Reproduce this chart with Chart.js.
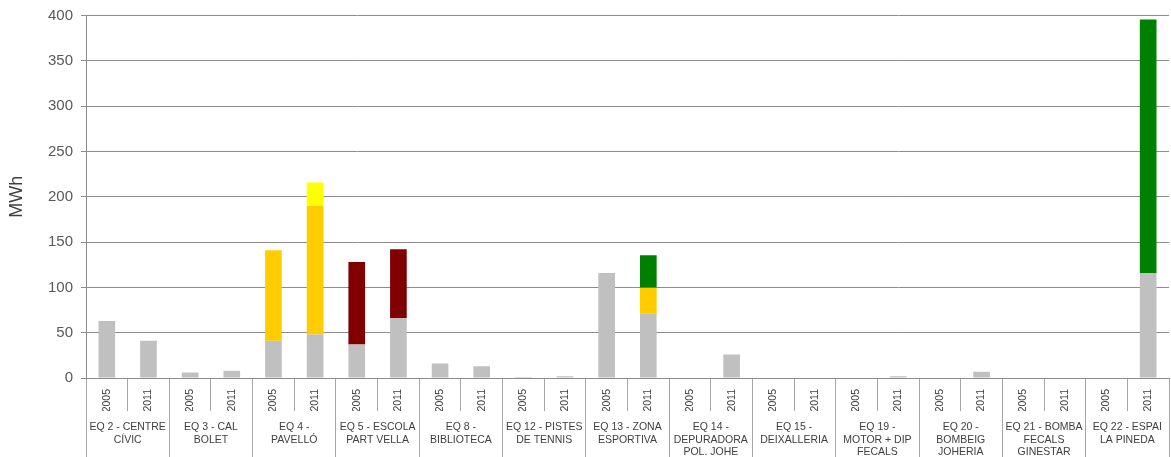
<!DOCTYPE html>
<html>
<head>
<meta charset="utf-8">
<script src="https://cdn.jsdelivr.net/npm/chart.js@4"></script>
<style>
  body { margin: 0; background: #fff; }
  #wrap { width: 1171px; height: 457px; position: relative; }
</style>
</head>
<body>
<div id="wrap"><canvas id="energy-canvas"></canvas></div>
<script>
// one year per bar, two bars per building
const years = [
  "2005", "2011", "2005", "2011", "2005", "2011", "2005", "2011", "2005", "2011",
  "2005", "2011", "2005", "2011", "2005", "2011", "2005", "2011", "2005", "2011",
  "2005", "2011", "2005", "2011", "2005", "2011",
];

const buildings = [
  ["EQ 2 - CENTRE", "CÍVIC"],
  ["EQ 3 - CAL", "BOLET"],
  ["EQ 4 -", "PAVELLÓ"],
  ["EQ 5 - ESCOLA", "PART VELLA"],
  ["EQ 8 -", "BIBLIOTECA"],
  ["EQ 12 - PISTES", "DE TENNIS"],
  ["EQ 13 - ZONA", "ESPORTIVA"],
  ["EQ 14 -", "DEPURADORA", "POL. JOHE"],
  ["EQ 15 -", "DEIXALLERIA"],
  ["EQ 19 -", "MOTOR + DIP", "FECALS"],
  ["EQ 20 -", "BOMBEIG", "JOHERIA"],
  ["EQ 21 - BOMBA", "FECALS", "GINESTAR"],
  ["EQ 22 - ESPAI", "LA PINEDA"],
];

// MWh
const greySeries = [63, 41, 6, 8, 41, 48, 37, 66, 16, 13, 1, 2, 116, 71, 0, 26, 0, 0, 0, 2, 0, 7, 0, 0, 0, 116];
const orangeSeries = [0, 0, 0, 0, 100, 142, 0, 0, 0, 0, 0, 0, 0, 28.5, 0, 0, 0, 0, 0, 0, 0, 0, 0, 0, 0, 0];
const yellowSeries = [0, 0, 0, 0, 0, 25.6, 0, 0, 0, 0, 0, 0, 0, 0, 0, 0, 0, 0, 0, 0, 0, 0, 0, 0, 0, 0];
const darkRedSeries = [0, 0, 0, 0, 0, 0, 91, 76, 0, 0, 0, 0, 0, 0, 0, 0, 0, 0, 0, 0, 0, 0, 0, 0, 0, 0];
const greenSeries = [0, 0, 0, 0, 0, 0, 0, 0, 0, 0, 0, 0, 0, 36, 0, 0, 0, 0, 0, 0, 0, 0, 0, 0, 0, 279.6];

const yTicks = [0, 50, 100, 150, 200, 250, 300, 350, 400];

const font = "'Liberation Sans', Arial, sans-serif";
const axisGrey = "#8c8c8c";
const sepGrey = "#a6a6a6";

function bars(data, color) {
  return {
    data: data,
    backgroundColor: color,
    borderWidth: 0,
    categoryPercentage: 1,
    barPercentage: 0.4,
    xAxisID: "x",
  };
}

const ctx = document.getElementById("energy-canvas").getContext("2d");

new Chart(ctx, {
  type: "bar",
  data: {
    labels: years,
    datasets: [
      bars(greySeries, "#c0c0c0"),
      bars(orangeSeries, "#ffcc00"),
      bars(yellowSeries, "#ffff00"),
      bars(darkRedSeries, "#800000"),
      bars(greenSeries, "#008000"),
    ],
  },
  options: {
    responsive: true,
    maintainAspectRatio: false,
    animation: false,
    layout: { padding: { top: 0, right: 2, left: 0, bottom: 0 } },
    plugins: {
      legend: { display: false },
      tooltip: { enabled: false },
    },
    scales: {
      x: {
        stacked: true,
        offset: true,
        weight: 0,
        grid: { drawOnChartArea: false, offset: true, tickLength: 33, color: sepGrey },
        border: { display: true, color: axisGrey },
        ticks: {
          autoSkip: false,
          minRotation: 90,
          maxRotation: 90,
          padding: -22,
          color: "#404040",
          font: { family: font, size: 10.5 },
        },
        afterFit: (scale) => { scale.height = 33; },
      },
      x2: {
        type: "category",
        position: "bottom",
        labels: buildings,
        offset: true,
        weight: 1,
        grid: { drawOnChartArea: false, offset: true, tickLength: 46, color: sepGrey },
        border: { display: false },
        ticks: {
          autoSkip: false,
          maxRotation: 0,
          minRotation: 0,
          padding: -36,
          color: "#404040",
          font: { family: font, size: 10.5, lineHeight: 1.2 },
        },
        afterFit: (scale) => { scale.height = 46; },
      },
      y: {
        stacked: true,
        min: 0,
        max: 400,
        afterBuildTicks: (scale) => { scale.ticks = yTicks.map((v) => ({ value: v })); },
        grid: { color: axisGrey, tickLength: 5 },
        border: { display: true, color: axisGrey },
        ticks: {
          padding: 8,
          color: "#595959",
          font: { family: font, size: 15, lineHeight: 1 },
        },
        title: {
          display: true,
          text: "MWh",
          color: "#404040",
          font: { family: font, size: 18 },
          padding: { top: 6, bottom: 0 },
        },
        afterFit: (scale) => { scale.width = 86; },
      },
    },
  },
});
</script>
</body>
</html>
